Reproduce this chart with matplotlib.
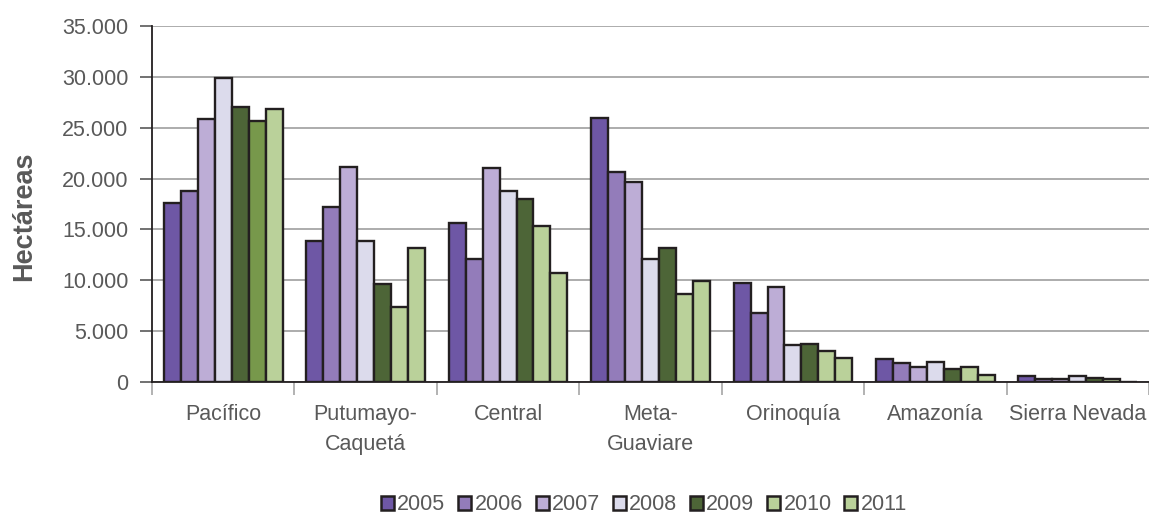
import matplotlib
matplotlib.use("Agg")
import matplotlib.pyplot as plt
from matplotlib.patches import Patch
from matplotlib.ticker import FuncFormatter, FixedLocator
import numpy as np

categories = ["Pacífico", "Putumayo-\nCaquetá", "Central", "Meta-\nGuaviare",
              "Orinoquía", "Amazonía", "Sierra Nevada"]
years = ["2005", "2006", "2007", "2008", "2009", "2010", "2011"]
v2005 = [17600, 13900, 15600, 26000, 9700, 2300, 560]
v2006 = [18800, 17200, 12100, 20600, 6800, 1900, 330]
v2007 = [25900, 21100, 21000, 19700, 9300, 1500, 260]
v2008 = [29900, 13900, 18800, 12100, 3600, 2000, 590]
v2009 = [27000, 9600, 18000, 13200, 3700, 1300, 360]
v2010 = [25700, 7400, 15300, 8700, 3000, 1500, 300]
v2011 = [26800, 13200, 10700, 9900, 2400, 700, 40]
series = [v2005, v2006, v2007, v2008, v2009, v2010, v2011]

colors = ["#6E57A5", "#937CBA", "#BDADD6", "#DCDBEC", "#4D6537", "#BAD19A", "#BAD19A"]
pacifico_2010_color = "#77984B"
edge = "#231F20"
txt = "#595959"

plt.rcParams['font.family'] = ['Liberation Sans', 'DejaVu Sans']

fig = plt.figure(figsize=(11.49, 5.17), dpi=100)
ax = fig.add_axes([152/1149, 1-382/517, 997/1149, 356/517])

x = np.arange(len(categories))
w = 0.119
for i, (vals, c) in enumerate(zip(series, colors)):
    offs = (i - 3) * w
    cols = [c] * len(vals)
    if years[i] == "2010":
        cols[0] = pacifico_2010_color
    ax.bar(x + offs, vals, width=w, color=cols, edgecolor=edge, linewidth=1.7, zorder=3)

ax.set_xlim(-0.5, 6.5)
ax.set_ylim(0, 35000)
ax.set_yticks(np.arange(0, 35001, 5000))
ax.yaxis.set_major_formatter(FuncFormatter(lambda v, p: f"{int(v):,}".replace(",", ".")))
ax.grid(axis='y', color="#A6A6A6", linewidth=1.3, zorder=0)
ax.set_axisbelow(True)

fs = 15.5
ax.xaxis.set_major_locator(FixedLocator(np.arange(-0.5, 7.0, 1.0)))
ax.xaxis.set_minor_locator(FixedLocator(x))
ax.set_xticklabels([], minor=False)
ax.set_xticklabels(categories, minor=True)
ax.tick_params(axis='x', which='major', length=9, color="#A6A6A6", width=1.2)
ax.tick_params(axis='x', which='minor', length=0, pad=16, labelsize=fs, labelcolor=txt)
for lbl in ax.get_xticklabels(minor=True):
    lbl.set_linespacing(1.55)
    lbl.set_verticalalignment('top')
ax.tick_params(axis='y', length=9, color="#595959", width=1.2, pad=8, labelsize=fs, labelcolor=txt)

for s in ['top', 'right']:
    ax.spines[s].set_visible(False)
ax.spines['left'].set_color("#231F20")
ax.spines['left'].set_linewidth(1.3)
ax.spines['bottom'].set_color("#231F20")
ax.spines['bottom'].set_linewidth(1.3)

ax.set_ylabel("Hectáreas", fontsize=19.5, fontweight='bold', color=txt)
ax.yaxis.set_label_coords(-0.115, 0.465)

handles = [Patch(facecolor=c, edgecolor=edge, linewidth=1.8) for c in colors]
fig.legend(handles, years, loc='center', bbox_to_anchor=(644/1149, 1-505/517),
           ncol=7, frameon=False, fontsize=fs, handlelength=0.6, handleheight=0.6,
           handletextpad=0.15, columnspacing=0.6, labelcolor=txt)

fig.savefig("out.png", dpi=100)
